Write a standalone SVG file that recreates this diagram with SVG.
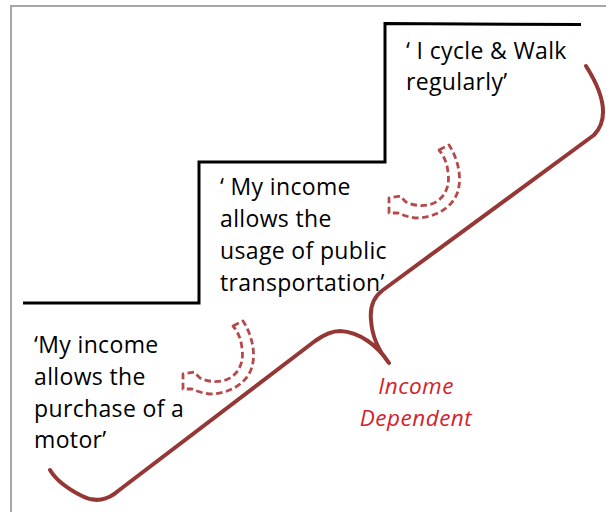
<svg xmlns="http://www.w3.org/2000/svg" width="606" height="512" viewBox="0 0 606 512">
<style>
.frame{fill:none;stroke:#a6a6a6;stroke-width:2}
.stair{fill:none;stroke:#000;stroke-width:3;stroke-linejoin:miter}
.brace{fill:none;stroke:#953735;stroke-width:4;stroke-linecap:round;stroke-linejoin:round}
.arrow{fill:#fff;stroke:#b44a4a;stroke-width:2.8;stroke-dasharray:6.5 3.5;stroke-linejoin:round}
.t{font-family:"Open Sans","Noto Sans",sans-serif;font-size:23px;letter-spacing:0.35px;fill:#000}
.r{font-family:"Open Sans","Noto Sans",sans-serif;font-size:22.5px;letter-spacing:0.5px;font-style:italic;fill:#d2232a;text-anchor:middle}
</style>
<defs>
<path id="carrow" d="M 439 150 L 449 145 C 460 162, 463 184, 455 198 C 447 211, 432 218, 415 218 C 408 217, 402 215, 398 213 L 389 213 L 389 198 L 400 196 L 406 202 C 414 206, 425 207, 434 203 C 446 197, 450 185, 448 172 C 447 163, 444 156, 439 150 Z"/>
</defs>
<rect class="frame" x="11" y="6" width="600" height="520"/>
<g id="staircase">
<polyline class="stair" points="23,303 199,303 199,162 385,162 385,23.5 581,24.5"/>
</g>
<g id="connectors">
<path class="brace" d="M 586 66 C 600 88, 612 116, 594 135 L 383 290 C 372 298, 370 310, 371 320 C 372 336, 378 350, 389 363 C 378 346, 360 332, 340 331 C 330 331, 322 336, 315 341 L 118 491 C 108 500, 95 503, 82 496 C 68 489, 56 480, 50 470"/>
<use href="#carrow" class="arrow"/>
<use href="#carrow" class="arrow" transform="translate(-206 176)"/>
</g>
<g id="node-cycle">
<text class="t" x="406" y="59">‘ I cycle &amp; Walk</text>
<text class="t" x="406" y="90">regularly’</text>
</g>
<g id="node-public">
<text class="t" x="220" y="195">‘ My income</text>
<text class="t" x="220" y="227">allows the</text>
<text class="t" x="220" y="259">usage of public</text>
<text class="t" x="220" y="291">transportation’</text>
</g>
<g id="node-motor">
<text class="t" x="34" y="353">‘My income</text>
<text class="t" x="34" y="385">allows the</text>
<text class="t" x="34" y="417">purchase of a</text>
<text class="t" x="34" y="448">motor’</text>
</g>
<g id="node-income">
<text class="r" x="416" y="394">Income</text>
<text class="r" x="416" y="426">Dependent</text>
</g>
</svg>
